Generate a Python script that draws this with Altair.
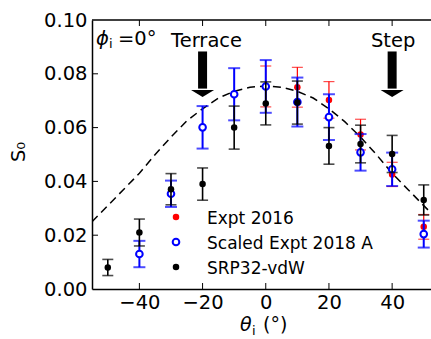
import altair as alt
import pandas as pd

# ---- data ----
x_srp = [-50, -40, -30, -20, -10, 0, 10, 20, 30, 40, 50]
y_srp = [0.0080, 0.0210, 0.0371, 0.0390, 0.0600, 0.0690, 0.0693, 0.0532, 0.0539, 0.0502, 0.0331]
e_srp = [0.0030, 0.0050, 0.0058, 0.0060, 0.0080, 0.0080, 0.0080, 0.0068, 0.0070, 0.0069, 0.0056]

x_e16 = [0, 10, 20, 30, 40, 50]
y_e16 = [0.0753, 0.0750, 0.0703, 0.0574, 0.0426, 0.0231]
e_e16 = [0.0076, 0.0074, 0.0068, 0.0057, 0.0045, 0.0046]

x_e18 = [-40, -30, -20, -10, 0, 10, 20, 30, 40, 50]
y_e18 = [0.0130, 0.0354, 0.0601, 0.0724, 0.0753, 0.0695, 0.0639, 0.0508, 0.0445, 0.0204]
e_e18 = [0.0049, 0.0049, 0.0079, 0.0097, 0.0098, 0.0091, 0.0085, 0.0068, 0.0062, 0.0050]

curve_x = [-55, -50, -45, -40, -35, -30, -25, -20, -15, -10, -5, 0, 5, 10, 15, 20, 25, 30, 35, 40, 45, 50, 53]
curve_y = [0.0250, 0.0310, 0.0370, 0.0430, 0.0500, 0.0565, 0.0625, 0.0670, 0.0710, 0.0735, 0.0750, 0.0755,
           0.0750, 0.0735, 0.0710, 0.0670, 0.0622, 0.0565, 0.0500, 0.0430, 0.0370, 0.0310, 0.0275]

series_names = ["Expt 2016", "Scaled Expt 2018 A", "SRP32-vdW"]
x_ticks = [-40, -20, 0, 20, 40]
y_ticks = [0.0, 0.02, 0.04, 0.06, 0.08, 0.10]

FONT = "DejaVu Sans"
W, H = 339, 269

xs = alt.Scale(domain=[-55, 52.3], nice=False, zero=False)
ys = alt.Scale(domain=[0, 0.10], nice=False, zero=False)


def frame(x, y, e):
    return pd.DataFrame({"x": x, "y": y, "lo": [a - b for a, b in zip(y, e)],
                         "hi": [a + b for a, b in zip(y, e)]})


X = alt.X("x:Q", scale=xs,
          axis=alt.Axis(values=x_ticks, format="d", tickSize=0, labelPadding=4, grid=False,
                        title=None, domainColor="black", domainWidth=1.5, labelFlush=False,
                        labelFont=FONT, labelFontSize=19.5, labelColor="black"))
Y = alt.Y("y:Q", scale=ys,
          axis=alt.Axis(values=y_ticks, format=".2f", tickSize=0, labelPadding=5, grid=False,
                        title=None, domainColor="black", domainWidth=1.5, labelFlush=False,
                        labelFont=FONT, labelFontSize=19.5, labelColor="black"))

curve = alt.Chart(pd.DataFrame({"x": curve_x, "y": curve_y})).mark_line(
    color="black", strokeDash=[8, 5], strokeWidth=1.5, clip=True).encode(x=X, y=Y)

layers = [curve]

specs = [
    (frame(x_e16, y_e16, e_e16), "red", 1.2, 11, dict(filled=True, fill="red", stroke="red", size=42, strokeWidth=0)),
    (frame(x_e18, y_e18, e_e18), "blue", 2.0, 12, dict(filled=False, fill="white", fillOpacity=1, stroke="blue", size=44, strokeWidth=2)),
    (frame(x_srp, y_srp, e_srp), "black", 1.6, 11, dict(filled=True, fill="black", stroke="black", size=42, strokeWidth=0)),
]

for df, col, lw, cap, mk in specs:
    base = alt.Chart(df)
    bar = base.mark_rule(color=col, strokeWidth=lw).encode(
        x=alt.X("x:Q", scale=xs), y=alt.Y("lo:Q", scale=ys), y2="hi:Q")
    cap_lo = base.mark_tick(color=col, orient="horizontal", size=cap, thickness=lw).encode(
        x=alt.X("x:Q", scale=xs), y=alt.Y("lo:Q", scale=ys))
    cap_hi = base.mark_tick(color=col, orient="horizontal", size=cap, thickness=lw).encode(
        x=alt.X("x:Q", scale=xs), y=alt.Y("hi:Q", scale=ys))
    pts = base.mark_point(shape="circle", opacity=1, **mk).encode(
        x=alt.X("x:Q", scale=xs), y=alt.Y("y:Q", scale=ys))
    layers += [bar, cap_lo, cap_hi, pts]

# inward ticks and top spine
tick_df_x = pd.DataFrame({"t": x_ticks})
tick_df_y = pd.DataFrame({"t": y_ticks[1:-1]})
layers.append(alt.Chart(tick_df_x).mark_rule(color="black", strokeWidth=1).encode(
    x=alt.X("t:Q", scale=xs), y=alt.value(H), y2=alt.value(H - 6)))
layers.append(alt.Chart(tick_df_x).mark_rule(color="black", strokeWidth=1).encode(
    x=alt.X("t:Q", scale=xs), y=alt.value(0), y2=alt.value(6)))
layers.append(alt.Chart(tick_df_y).mark_rule(color="black", strokeWidth=1).encode(
    y=alt.Y("t:Q", scale=ys), x=alt.value(0), x2=alt.value(6)))
layers.append(alt.Chart(pd.DataFrame({"a": [0]})).mark_rule(color="black", strokeWidth=1.5).encode(
    x=alt.value(0), x2=alt.value(W), y=alt.value(0)))

# arrows and labels
one = pd.DataFrame({"a": [0]})
arrow_head = "M-1,-0.3L1,-0.3L0,0.3Z"
for ax_x, label in [(-20, "Terrace"), (40, "Step")]:
    layers.append(alt.Chart(one).mark_rule(color="black", strokeWidth=9).encode(
        x=alt.datum(ax_x, scale=xs), y=alt.datum(0.0883, scale=ys), y2=alt.datum(0.0745)))
    layers.append(alt.Chart(one).mark_point(shape=arrow_head, filled=True, color="black",
                                            size=529, opacity=1).encode(
        x=alt.datum(ax_x, scale=xs), y=alt.datum(0.0727, scale=ys)))
    layers.append(alt.Chart(one).mark_text(text=label, font=FONT, fontSize=19.5, color="black",
                                           align="center", baseline="alphabetic",
                                           dx=(4 if ax_x < 0 else 1)).encode(
        x=alt.datum(ax_x, scale=xs), y=alt.value(27)))

# phi annotation
layers.append(alt.Chart(one).mark_text(text="ϕ", font=FONT, fontSize=19.5, fontStyle="italic",
                                       color="black", align="left", baseline="alphabetic").encode(
    x=alt.value(4), y=alt.value(25)))
layers.append(alt.Chart(one).mark_text(text="i", font=FONT, fontSize=13, color="black",
                                       align="left", baseline="alphabetic").encode(
    x=alt.value(17), y=alt.value(28)))
layers.append(alt.Chart(one).mark_text(text="=0°", font=FONT, fontSize=19.5, color="black",
                                       align="left", baseline="alphabetic").encode(
    x=alt.value(26), y=alt.value(25)))

# axis titles
layers.append(alt.Chart(one).mark_text(text="θ", font=FONT, fontSize=19, fontStyle="italic",
                                       color="black", align="left", baseline="alphabetic").encode(
    x=alt.value(148), y=alt.value(311)))
layers.append(alt.Chart(one).mark_text(text="i", font=FONT, fontSize=13, color="black",
                                       align="left", baseline="alphabetic").encode(
    x=alt.value(160), y=alt.value(315)))
layers.append(alt.Chart(one).mark_text(text="(°)", font=FONT, fontSize=19, color="black",
                                       align="left", baseline="alphabetic").encode(
    x=alt.value(171), y=alt.value(311)))
layers.append(alt.Chart(one).mark_text(text="S₀", font=FONT, fontSize=19.5, color="black",
                                       align="center", baseline="middle", angle=270).encode(
    x=alt.value(-73), y=alt.value(132)))

# legend
leg_fill = ["red", "white", "black"]
leg_stroke = ["red", "blue", "black"]
for i, name in enumerate(series_names):
    yy = 197 + 25 * i
    layers.append(alt.Chart(one).mark_point(shape="circle", filled=(i != 1), opacity=1,
                                            fill=leg_fill[i], fillOpacity=1, stroke=leg_stroke[i],
                                            strokeWidth=(2 if i == 1 else 0), size=(44 if i == 1 else 42)).encode(
        x=alt.value(84), y=alt.value(yy)))
    layers.append(alt.Chart(one).mark_text(text=name, font=FONT, fontSize=17, color="black",
                                           align="left", baseline="alphabetic").encode(
        x=alt.value(115), y=alt.value(yy + 6.5)))

chart = alt.layer(*layers).properties(
    width=W, height=H,
    autosize=alt.AutoSizeParams(type="none"),
    padding={"left": 92, "top": 20, "right": 0, "bottom": 50},
    background="white",
).configure_view(stroke=None)

chart.save("out.html", embed_options={"renderer": "svg", "actions": False})
